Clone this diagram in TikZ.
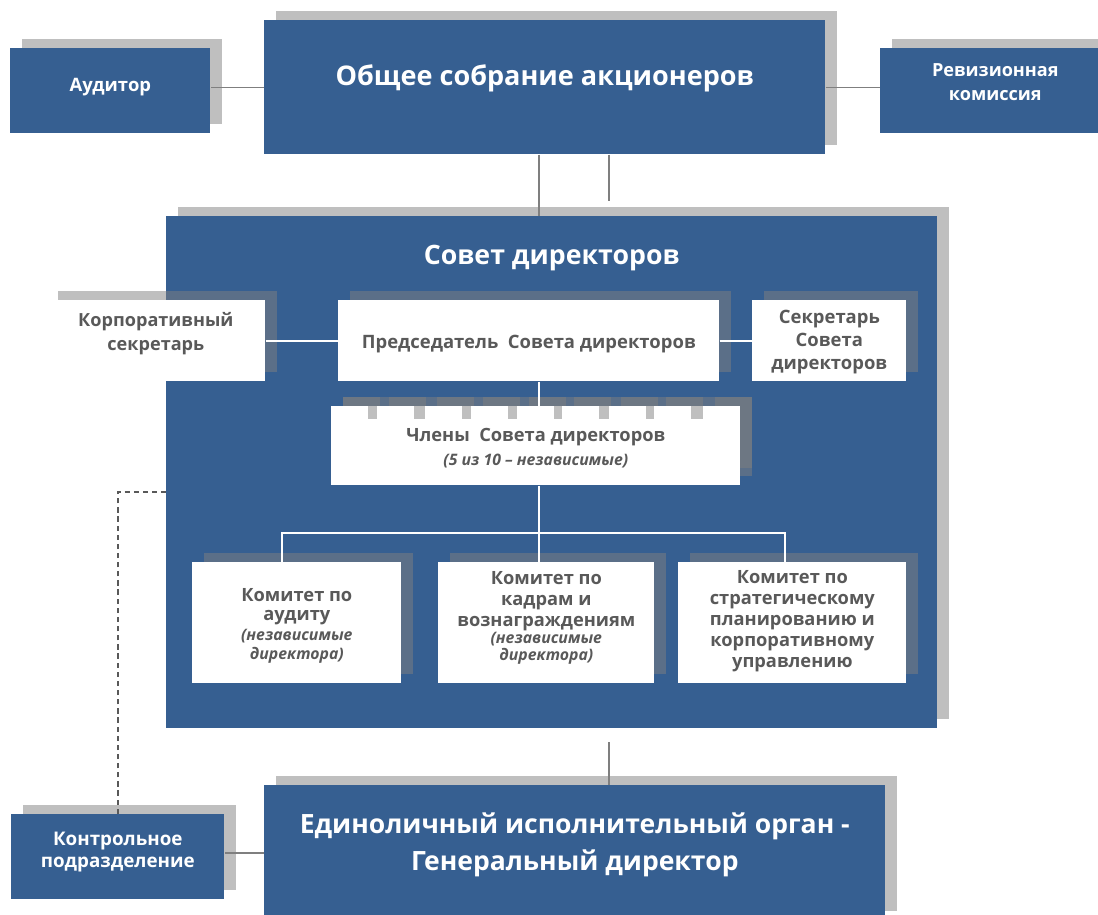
\documentclass[tikz,border=0pt]{standalone}
\usepackage{fontspec}
\setmainfont{Open Sans}
\usetikzlibrary{shadows,positioning,calc}
\definecolor{boardblue}{HTML}{365F91}
\definecolor{labelgray}{HTML}{595959}
\definecolor{linkgray}{HTML}{7F7F7F}
\newcommand{\note}[1]{{\fontsize{9}{10}\selectfont\itshape #1}}

\begin{document}
\begin{tikzpicture}[x=0.02cm, y=-0.02cm,
    box/.style={rectangle, inner sep=0pt, anchor=north west,
      drop shadow={shadow xshift=0.24cm, shadow yshift=0.18cm, fill=black!50, opacity=.5}},
    bluebox/.style={box, fill=boardblue},
    whitebox/.style={box, fill=white},
    fs/.style 2 args={font=\bfseries\fontsize{#1}{#2}\selectfont},
    bluetext/.style={text=white, align=center},
    graytext/.style={text=labelgray, align=center},
    link/.style={draw=linkgray, line width=0.9pt},
    inlink/.style={draw=white, line width=0.9pt},
    ctrllink/.style={draw=labelgray, line width=1.1pt, dash pattern=on 3pt off 2.2pt}]
  \useasboundingbox (0,0) rectangle (1098,915);

  % shareholders and control bodies
  \node[bluebox, minimum width=11.22cm, minimum height=2.68cm] (gm) at (264,20) {};
  \node[bluetext, fs={15.4}{18}] (gmtext) at (gm.center |- 0,78) {Общее собрание акционеров};
  \node[bluebox, minimum width=4cm, minimum height=1.7cm] (aud) at (10,48) {};
  \node[bluetext, fs={10.5}{12}] (audtext) at (aud.center |- 0,87) {Аудитор};
  \node[bluebox, minimum width=4.6cm, minimum height=1.7cm] (rev) at (880,48) {};
  \node[bluetext, fs={10.3}{13.6}] (revtext) at (rev.center |- 0,82) {Ревизионная\\комиссия};

  % board of directors
  \node[bluebox, minimum width=15.42cm, minimum height=10.24cm] (board) at (166,216) {};
  \node[bluetext, fs={15.2}{18}] (boardtext) at (board.center |- 0,258) {Совет директоров};

  \node[whitebox, minimum width=4.38cm, minimum height=1.62cm] (corp) at (46,300) {};
  \node[graytext, fs={10.3}{13.6}] (corptext) at (corp.center |- 0,334) {Корпоративный\\секретарь};
  \node[whitebox, minimum width=7.62cm, minimum height=1.62cm] (chair) at (338,300) {};
  \node[graytext, fs={10.5}{12}] (chairtext) at (chair.center |- 0,344) {Председатель\ \ Совета директоров};
  \node[whitebox, minimum width=3.08cm, minimum height=1.62cm] (sec) at (752,300) {};
  \node[graytext, fs={10.5}{13.3}] (sectext) at (sec.center |- 0,342) {Секретарь\\Совета\\директоров};

  % members, drawn as a stack
  \fill[black!50, opacity=.5] (715,397) rectangle (752,468);
  \node[whitebox, drop shadow={opacity=0}, minimum width=8.18cm, minimum height=1.58cm] (memb) at (331,406) {};
  \foreach \s [count=\i] in {343,389,437,483,529,574,621,666}
    \node[whitebox, minimum width=0.74cm, minimum height=0.44cm] (tab\i) at (\s-12,406) {};
  \node[graytext, fs={10.4}{13.6}] (membtext) at (memb.center |- 0,448) {Члены\ \ Совета директоров\\\note{(5 из 10 – независимые)}};

  % committees
  \node[whitebox, minimum width=4.18cm, minimum height=2.42cm] (audcom) at (192,562) {};
  \node[graytext, fs={10.4}{11}] (audcomtext) at (audcom.center |- 0,626)
    {Комитет по\\аудиту\\\note{(независимые}\\\note{директора)}};
  \node[whitebox, minimum width=4.32cm, minimum height=2.42cm] (hrcom) at (438,562) {};
  \node[graytext, fs={10.4}{11.9}] (hrcomtext) at (hrcom.center |- 0,618)
    {Комитет по\\кадрам и\\вознаграждениям\\[-2pt]\note{(независимые}\\[-2pt]\note{директора)}};
  \node[whitebox, minimum width=4.56cm, minimum height=2.42cm] (stratcom) at (678,562) {};
  \node[graytext, fs={10.4}{11.9}] (stratcomtext) at (stratcom.center |- 0,621)
    {Комитет по\\стратегическому\\планированию и\\корпоративному\\управлению};

  % executive level
  \node[bluebox, minimum width=12.42cm, minimum height=2.7cm] (ceo) at (264,785) {};
  \node[bluetext, fs={15.1}{21}] (ceotext) at (ceo.center |- 0,845) {Единоличный исполнительный орган -\\Генеральный директор};
  \node[bluebox, minimum width=4.26cm, minimum height=1.7cm] (ctrl) at (11,814) {};
  \node[bluetext, fs={10.7}{12}] (ctrltext) at (ctrl.center |- 0,852) {Контрольное\\подразделение};

  % connectors
  \coordinate (axis) at (539,0);
  \coordinate (gmtail) at (609,201);
  \coordinate (ceohead) at (609,742);
  \coordinate (bus1) at (282,533);
  \coordinate (bus2) at (539,533);
  \coordinate (bus3) at (785,533);
  \coordinate (ctrlhook) at (166,492);
  \draw[link] (gm.west) -- (gm.west -| aud.east);
  \draw[link] (gm.east) -- (gm.east -| rev.west);
  \draw[link] (gm.south -| axis) -- (board.north -| axis);
  \draw[link] (gm.south -| gmtail) -- (gmtail);
  \draw[link] (ceohead) -- (ceo.north -| ceohead);
  \draw[link] (ceo.west) -- (ceo.west -| ctrl.east);
  \draw[inlink] (corp.east) -- (chair.west);
  \draw[inlink] (chair.east) -- (sec.west);
  \draw[inlink] (chair.south -| axis) -- (memb.north -| axis);
  \draw[inlink] (memb.south -| bus2) -- (hrcom.north -| bus2);
  \draw[inlink] (audcom.north -| bus1) -- (bus1) -- (bus3) -- (stratcom.north -| bus3);
  \draw[ctrllink] (ctrl.north) |- (ctrlhook);
\end{tikzpicture}
\end{document}
